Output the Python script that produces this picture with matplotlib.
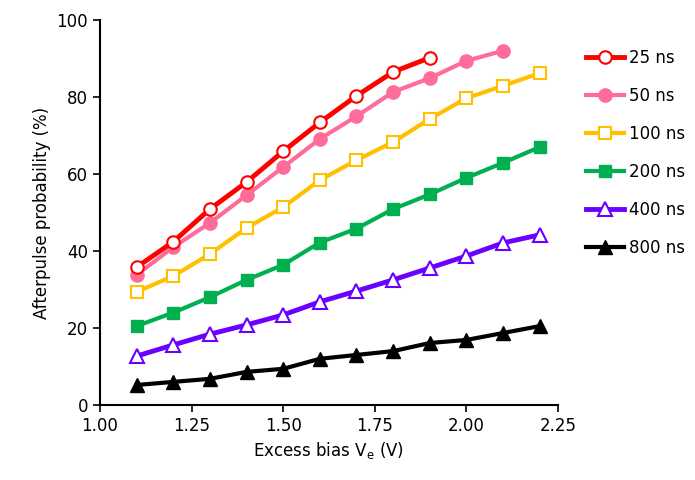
import numpy as np
import matplotlib.pyplot as plt

# Excess bias values (V)
x_25 = [1.1, 1.2, 1.3, 1.4, 1.5, 1.6, 1.7, 1.8, 1.9]
x_50 = [1.1, 1.2, 1.3, 1.4, 1.5, 1.6, 1.7, 1.8, 1.9, 2.0, 2.1]
x_full = [1.1, 1.2, 1.3, 1.4, 1.5, 1.6, 1.7, 1.8, 1.9, 2.0, 2.1, 2.2]

# Afterpulse probability (%) per hold-off time
ap_25 = [35.8, 42.4, 50.9, 57.9, 65.9, 73.4, 80.3, 86.5, 90.2]
ap_50 = [33.8, 41.0, 47.3, 54.5, 61.8, 69.1, 75.0, 81.3, 84.9, 89.4, 92.0]
ap_100 = [29.4, 33.5, 39.2, 46.0, 51.4, 58.4, 63.6, 68.3, 74.3, 79.7, 82.9, 86.2]
ap_200 = [20.5, 24.0, 28.0, 32.5, 36.4, 42.2, 45.8, 50.9, 54.7, 59.0, 62.9, 67.0]
ap_400 = [12.7, 15.6, 18.4, 20.8, 23.4, 26.8, 29.6, 32.5, 35.6, 38.7, 42.1, 44.2]
ap_800 = [5.2, 6.0, 6.8, 8.6, 9.4, 12.0, 13.0, 14.0, 16.1, 16.9, 18.7, 20.5]

plt.rcParams['font.family'] = ['DejaVu Sans']

fig = plt.figure(figsize=(6.95, 4.8), dpi=100)
ax = fig.add_axes([0.1439, 0.15625, 0.6590, 0.8021])

ax.plot(x_25, ap_25, color='#FF0000', lw=3.5, marker='o', ms=9,
        mfc='white', mec='#FF0000', mew=1.5, label='25 ns', zorder=7)
ax.plot(x_50, ap_50, color='#FF6C9A', lw=3, marker='o', ms=9.5,
        mfc='#FF6C9A', mec='#FF6C9A', label='50 ns', zorder=6)
ax.plot(x_full, ap_100, color='#FFC000', lw=3, marker='s', ms=9,
        mfc='white', mec='#FFC000', mew=1.5, label='100 ns', zorder=5)
ax.plot(x_full, ap_200, color='#00B050', lw=3, marker='s', ms=9,
        mfc='#00B050', mec='#00B050', label='200 ns', zorder=4)
ax.plot(x_full, ap_400, color='#6A00FF', lw=3.5, marker='^', ms=10,
        mfc='white', mec='#6A00FF', mew=1.5, label='400 ns', zorder=3)
ax.plot(x_full, ap_800, color='#000000', lw=3, marker='^', ms=10,
        mfc='#000000', mec='#000000', label='800 ns', zorder=2)

ax.set_xlim(1.0, 2.25)
ax.set_ylim(0, 100)
ax.set_xticks([1.0, 1.25, 1.5, 1.75, 2.0, 2.25])
ax.set_xticklabels(['1.00', '1.25', '1.50', '1.75', '2.00', '2.25'])
ax.set_yticks([0, 20, 40, 60, 80, 100])

ax.spines['top'].set_visible(False)
ax.spines['right'].set_visible(False)
ax.spines['left'].set_linewidth(1.5)
ax.spines['bottom'].set_linewidth(1.5)
ax.tick_params(axis='both', labelsize=12, width=1.2, length=5, color='#000000')

ax.set_xlabel('Excess bias V$_\\mathregular{e}$ (V)', fontsize=12)
ax.set_ylabel('Afterpulse probability (%)', fontsize=12)

ax.legend(loc='upper left', bbox_to_anchor=(1.046, 0.943), frameon=False,
          fontsize=12, handlelength=2.3, labelspacing=1.2, handletextpad=0.3,
          borderaxespad=0)

fig.savefig('out.png', dpi=100)
